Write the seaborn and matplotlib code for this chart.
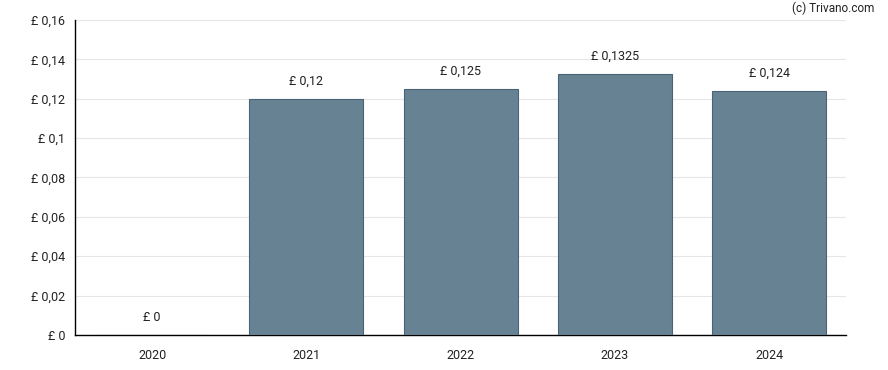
import seaborn as sns
import matplotlib.pyplot as plt
import pandas as pd
from matplotlib.ticker import FuncFormatter

# data
years = ["2020", "2021", "2022", "2023", "2024"]
dividends = [0.0, 0.12, 0.125, 0.1325, 0.124]
value_labels = ["£ 0", "£ 0,12", "£ 0,125", "£ 0,1325", "£ 0,124"]
y_ticks = [0, 0.02, 0.04, 0.06, 0.08, 0.10, 0.12, 0.14, 0.16]

df = pd.DataFrame({"Year": years, "Dividend": dividends})

sns.set_style("white")
plt.rcParams["font.family"] = ["Roboto", "DejaVu Sans"]

fig = plt.figure(figsize=(8.88, 3.7), dpi=100)
ax = fig.add_axes([0.0845, 0.0946, 0.8685, 0.8514])

sns.barplot(data=df, x="Year", y="Dividend", ax=ax, color="#678293",
            saturation=1, width=0.74, edgecolor="#4a6475", linewidth=0.8,
            zorder=3)

ax.set_xlim(-0.5, 4.5)
ax.set_ylim(0, 0.16)
ax.set_yticks(y_ticks)

def fmt(v, pos):
    s = f"{v:.4f}".rstrip("0").rstrip(".")
    return "£ " + s.replace(".", ",")

ax.yaxis.set_major_formatter(FuncFormatter(fmt))
ax.grid(axis="y", color="#e6e6e6", linewidth=0.8, zorder=0)
ax.set_axisbelow(True)

for i, (v, lab) in enumerate(zip(dividends, value_labels)):
    ax.annotate(lab, (i, v), xytext=(0, 8), textcoords="offset points",
                ha="center", va="bottom", fontsize=9, color="#222222")

ax.set_xlabel("")
ax.set_ylabel("")
for side in ["top", "right"]:
    ax.spines[side].set_visible(False)
for side in ["left", "bottom"]:
    ax.spines[side].set_color("black")
    ax.spines[side].set_linewidth(1)
ax.tick_params(axis="both", length=4, width=1, color="black",
               labelsize=9, labelcolor="#222222", direction="out")
ax.tick_params(axis="x", pad=6)
ax.tick_params(axis="y", pad=3)

fig.text(0.985, 0.995, "(c) Trivano.com", ha="right", va="top",
         fontsize=8.5, color="#222222")

fig.savefig("out.png", dpi=100)
